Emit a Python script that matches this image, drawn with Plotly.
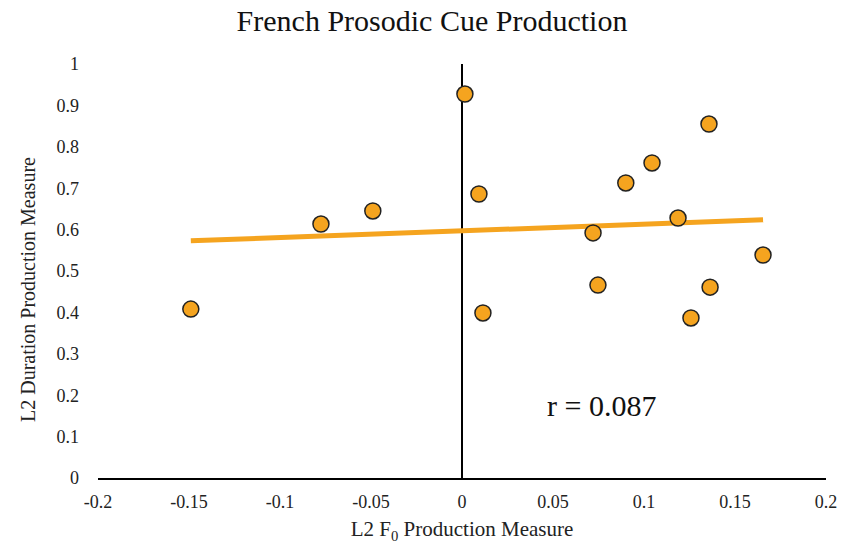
import numpy as np
import plotly.graph_objects as go

# L2 F0 and duration production measures per speaker
f0_measure = [-0.149, -0.0775, -0.049, 0.0016, 0.0093, 0.0115, 0.072, 0.0747,
              0.090, 0.1044, 0.1187, 0.1258, 0.1357, 0.1363, 0.1654]
duration_measure = [0.408, 0.6135, 0.645, 0.9275, 0.686, 0.3986, 0.592, 0.466,
                    0.7126, 0.761, 0.628, 0.3865, 0.855, 0.461, 0.5386]
x_ticks = [-0.2, -0.15, -0.1, -0.05, 0, 0.05, 0.1, 0.15, 0.2]
x_tick_text = ["-0.2", "-0.15", "-0.1", "-0.05", "0", "0.05", "0.1", "0.15", "0.2"]
y_ticks = [0, 0.1, 0.2, 0.3, 0.4, 0.5, 0.6, 0.7, 0.8, 0.9, 1]
y_tick_text = ["0", "0.1", "0.2", "0.3", "0.4", "0.5", "0.6", "0.7", "0.8", "0.9", "1"]
r_label = "r = 0.087"

x = np.array(f0_measure)
y = np.array(duration_measure)
slope, intercept = np.polyfit(x, y, 1)
line_x = np.array([x.min(), x.max()])
line_y = slope * line_x + intercept

FONT = "Liberation Serif, Times New Roman, serif"
ORANGE = "#F5A41F"

fig = go.Figure()
fig.add_trace(go.Scatter(
    x=line_x, y=line_y, mode="lines",
    line=dict(color=ORANGE, width=5), hoverinfo="skip", showlegend=False,
))
fig.add_trace(go.Scatter(
    x=f0_measure, y=duration_measure, mode="markers",
    marker=dict(size=16, color=ORANGE, line=dict(color="#222222", width=1.5)),
    showlegend=False,
))

fig.update_layout(
    width=846, height=545,
    margin=dict(l=98, r=20, t=64, b=67),
    paper_bgcolor="white", plot_bgcolor="white",
    font=dict(family=FONT, color="#222222"),
    title=dict(text="French Prosodic Cue Production", x=432 / 846, xanchor="center",
               y=1 - 20 / 545, yanchor="middle",
               font=dict(family=FONT, size=30, color="#111111")),
    xaxis=dict(
        range=[-0.2, 0.2], tickvals=x_ticks, ticktext=x_tick_text,
        showgrid=False, zeroline=True, zerolinecolor="black", zerolinewidth=2,
        showline=True, linecolor="black", linewidth=2, ticks="",
        ticklabelstandoff=6, automargin=False,
        tickfont=dict(family=FONT, size=18, color="#222222"),
        title=dict(text="L2 F<sub>0</sub> Production Measure", standoff=11,
                   font=dict(family=FONT, size=21, color="#222222")),
    ),
    yaxis=dict(
        range=[0, 1], tickvals=y_ticks, ticktext=y_tick_text,
        showgrid=False, zeroline=False, showline=False, ticks="",
        ticklabelstandoff=18, automargin=False,
        tickfont=dict(family=FONT, size=18, color="#222222"),
    ),
    annotations=[
        dict(text="L2 Duration Production Measure", xref="paper", yref="paper",
             x=(28 - 98) / 728, y=(478 - 290) / 414, textangle=-90,
             xanchor="center", yanchor="middle", showarrow=False,
             font=dict(family=FONT, size=20, color="#222222")),
        dict(text=r_label, xref="x", yref="y", x=0.0765, y=(478 - 405) / 414,
             xanchor="center", yanchor="middle", showarrow=False,
             font=dict(family=FONT, size=30, color="#111111")),
    ],
)

fig.write_html("out.html")
